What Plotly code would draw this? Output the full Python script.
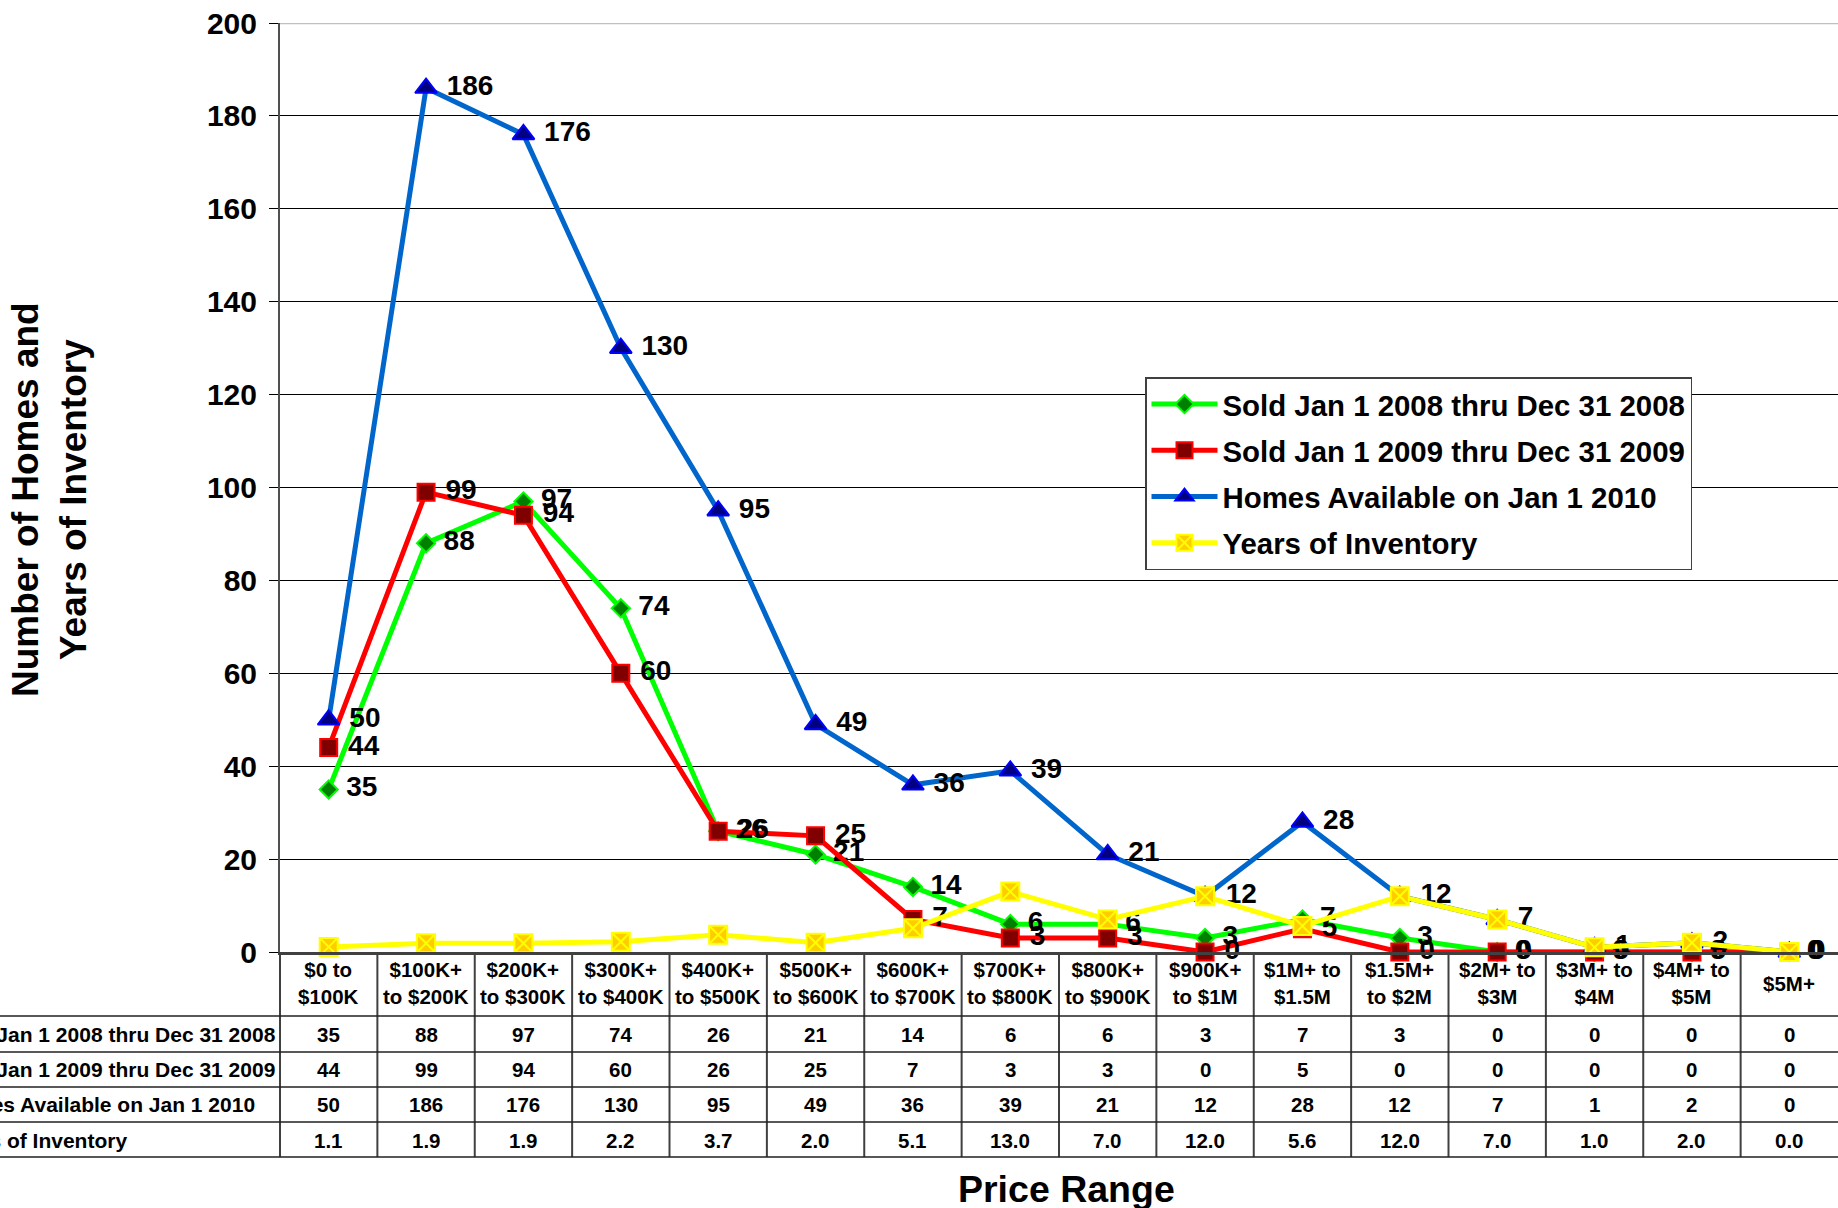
import plotly.graph_objects as go

categories = ["$0 to<br>$100K", "$100K+<br>to $200K", "$200K+<br>to $300K", "$300K+<br>to $400K",
              "$400K+<br>to $500K", "$500K+<br>to $600K", "$600K+<br>to $700K", "$700K+<br>to $800K",
              "$800K+<br>to $900K", "$900K+<br>to $1M", "$1M+ to<br>$1.5M", "$1.5M+<br>to $2M",
              "$2M+ to<br>$3M", "$3M+ to<br>$4M", "$4M+ to<br>$5M", "$5M+"]
sold_2008 = [35, 88, 97, 74, 26, 21, 14, 6, 6, 3, 7, 3, 0, 0, 0, 0]
sold_2009 = [44, 99, 94, 60, 26, 25, 7, 3, 3, 0, 5, 0, 0, 0, 0, 0]
available_2010 = [50, 186, 176, 130, 95, 49, 36, 39, 21, 12, 28, 12, 7, 1, 2, 0]
years_inventory = [1.1, 1.9, 1.9, 2.2, 3.7, 2.0, 5.1, 13.0, 7.0, 12.0, 5.6, 12.0, 7.0, 1.0, 2.0, 0.0]
series_names = ["Sold Jan 1 2008 thru Dec 31 2008", "Sold Jan 1 2009 thru Dec 31 2009",
                "Homes Available on Jan 1 2010", "Years of Inventory"]
y_ticks = [0, 20, 40, 60, 80, 100, 120, 140, 160, 180, 200]

FONT = "Liberation Sans, Arial, sans-serif"
W, H = 1838, 1208
L, R, T, B = 280, 0, 23, 256
PH = H - T - B  # plot height
PW = W - L - R


def py(pix):
    return (H - B - pix) / PH


def px(pix):
    return (pix - L) / PW


fig = go.Figure()

styles = [
    dict(line="#00FF00", fill="#008000", sym="diamond", size=14),
    dict(line="#FF0000", fill="#800000", sym="square", size=17),
    dict(line="#0066CC", fill="#000080", sym="triangle-up", size=19, mline="#0000FF"),
    dict(line="#FFFF00", fill="#FFCC00", sym="square-x", size=18),
]
all_series = [sold_2008, sold_2009, available_2010, years_inventory]
for i, (name, vals, st) in enumerate(zip(series_names, all_series, styles)):
    show_text = i < 3
    fig.add_trace(go.Scatter(
        x=categories, y=vals, name=name,
        mode="lines+markers+text" if show_text else "lines+markers",
        text=[f" {v:g}" for v in vals] if show_text else None,
        textposition="middle right",
        textfont=dict(family=FONT, size=28, color="black", weight="bold"),
        line=dict(color=st["line"], width=5),
        marker=dict(symbol=st["sym"], size=st["size"], color=st["fill"],
                    line=dict(color=st.get("mline", st["line"]), width=2)),
        cliponaxis=False,
        legendgroup=f"g{i}",
    ))

shapes = []
# top border of plot area
shapes.append(dict(type="line", xref="paper", yref="y", x0=0, x1=1, y0=200, y1=200,
                   line=dict(color="#C0C0C0", width=2.5), layer="above"))
# table vertical lines
ybot = py(1157)
for i in range(1, len(categories)):
    shapes.append(dict(type="line", xref="x", yref="paper", x0=i - 0.5, x1=i - 0.5, y0=0, y1=ybot,
                       line=dict(color="#404040", width=2)))
shapes.append(dict(type="line", xref="paper", yref="paper", x0=0, x1=0, y0=0, y1=ybot,
                   line=dict(color="#404040", width=2)))
# table horizontal lines
for yp in [1016, 1052, 1087, 1122, 1157]:
    shapes.append(dict(type="line", xref="paper", yref="paper", x0=px(0), x1=1, y0=py(yp), y1=py(yp),
                       line=dict(color="#202020", width=1.5)))

annotations = []
# category labels
for c in categories:
    annotations.append(dict(x=c, xref="x", y=py(983), yref="paper", text=c, showarrow=False,
                            font=dict(family=FONT, size=20.5, color="black", weight="bold"),
                            xanchor="center", yanchor="middle", align="center"))
# table rows
row_centers = [1034, 1069, 1104, 1140]
for r, (name, vals) in enumerate(zip(series_names, all_series)):
    annotations.append(dict(x=px(-57), xref="paper", y=py(row_centers[r]), yref="paper", text=name,
                            showarrow=False, xanchor="left", yanchor="middle",
                            font=dict(family=FONT, size=21, color="black", weight="bold")))
    for c, v in zip(categories, vals):
        txt = f"{v:.1f}" if r == 3 else f"{v:g}"
        annotations.append(dict(x=c, xref="x", y=py(row_centers[r]), yref="paper", text=txt,
                                showarrow=False, xanchor="center", yanchor="middle",
                                font=dict(family=FONT, size=20.5, color="black", weight="bold")))
# axis titles
annotations.append(dict(x=px(50), xref="paper", y=py(499), yref="paper",
                        text="Number of Homes and<br>Years of Inventory", textangle=-90,
                        showarrow=False, xanchor="center", yanchor="middle", align="center",
                        font=dict(family=FONT, size=37, color="black", weight="bold")))
annotations.append(dict(x=px(1066), xref="paper", y=py(1189), yref="paper", text="Price Range",
                        showarrow=False, xanchor="center", yanchor="middle",
                        font=dict(family=FONT, size=37.5, color="black", weight="bold")))

fig.update_layout(
    width=W, height=H,
    margin=dict(l=L, r=R, t=T, b=B, pad=0),
    paper_bgcolor="white", plot_bgcolor="white",
    font=dict(family=FONT, color="black"),
    showlegend=True,
    legend=dict(x=px(1145), y=py(377), xanchor="left", yanchor="top",
                bgcolor="white", bordercolor="#404040", borderwidth=1.5,
                font=dict(family=FONT, size=29.4, color="black", weight="bold"),
                itemwidth=66, traceorder="grouped", tracegroupgap=5, itemclick=False),
    xaxis=dict(type="category", range=[-0.5, 15.5], showticklabels=False, showgrid=False,
               showline=True, linecolor="#404040", linewidth=2.5, ticks="", zeroline=False,
               fixedrange=True),
    yaxis=dict(range=[0, 200], tickvals=y_ticks, ticktext=[str(v) for v in y_ticks],
               showgrid=True, gridcolor="black", gridwidth=1,
               showline=True, linecolor="#505050", linewidth=2,
               ticks="outside", ticklen=9, tickcolor="black", tickwidth=1,
               ticklabelstandoff=6,
               tickfont=dict(family=FONT, size=30, color="black", weight="bold"),
               zeroline=False, fixedrange=True),
    shapes=shapes,
    annotations=annotations,
)

fig.write_html("out.html", config={"displayModeBar": False},
               post_script="document.body.style.margin='0';document.body.style.overflow='hidden';")
